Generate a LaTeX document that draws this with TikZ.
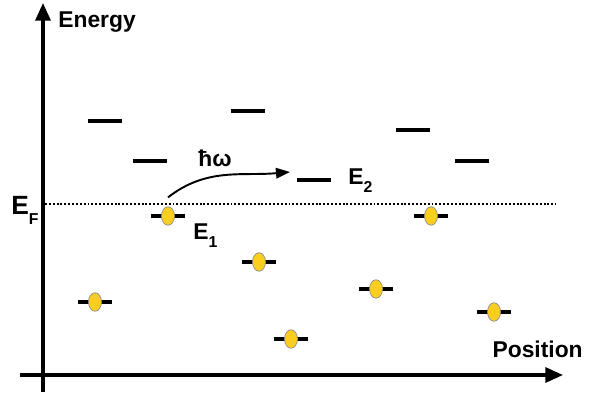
\documentclass[tikz,border=0pt]{standalone}
\usepackage{fontspec}
\setmainfont{Liberation Sans}
\usetikzlibrary{positioning,arrows.meta,shapes}
\definecolor{elcol}{RGB}{250,206,30}
\definecolor{elrim}{RGB}{140,140,140}
\newcommand{\lowsub}[2]{\raisebox{#1}{\fontsize{9}{9}\selectfont\bfseries #2}}

\begin{document}
\begin{tikzpicture}[x=0.02cm, y=0.02cm,
  axis/.style={line width=1.8pt, -{Triangle[length=10pt, width=8.5pt]}},
  lvl/.style={line width=1.9pt},
  occ/.style={line width=1.8pt},
  el/.style={ellipse, draw=elrim, line width=0.4pt, fill=elcol,
             minimum width=0.26cm, minimum height=0.37cm, inner sep=0pt},
  ar/.style={-{Triangle[length=8pt, width=6pt]}, line width=1.1pt},
  lb/.style={font=\fontsize{#1}{#1}\selectfont\bfseries, inner sep=0pt},
  lb/.default=13
]
\useasboundingbox (0,0) rectangle (591,398);

% axes
\draw[axis] (43,6) -- (43,395);
\draw[axis] (20,23) -- (563,23);
\node[lb, anchor=base west] (energy) at (58,370) {Energy};
\node[lb, anchor=base east] (position) at (583,40) {Position};

% Fermi level
\draw[line width=1.6pt, dash pattern=on 1.1pt off 1.1pt] (45,194) -- (556,194);
\node[lb=15, anchor=base west] (ef) at (11,183) {E\lowsub{-5.5pt}{F}};

% empty levels
\foreach \x/\y in {105/277, 150/237, 248/287, 314/218, 413/268, 472/237}
  \draw[lvl] (\x-17,\y) -- (\x+17,\y);

% occupied levels
\foreach \n/\x/\y in {1/168/182, 2/259/136, 3/95/96, 4/291/59, 5/376/109, 6/431/182, 7/494/86}
{
  \draw[occ] (\x-17,\y) -- (\x+17,\y);
  \node[el] (occ\n) at (\x,\y) {};
}

\node[lb, anchor=base west] (e1) at (193,158) {E\lowsub{-4pt}{1}};
\node[lb, anchor=base west] (e2) at (348,213) {E\lowsub{-4pt}{2}};

% transition
\coordinate[above=0.18cm of occ1] (hwfrom);
\coordinate (hwto) at (290,226);
\draw[ar] (hwfrom) to[out=38, in=185] (hwto);
\node[lb, anchor=base west] (hw) at (198,231) {ħω};

\end{tikzpicture}
\end{document}
